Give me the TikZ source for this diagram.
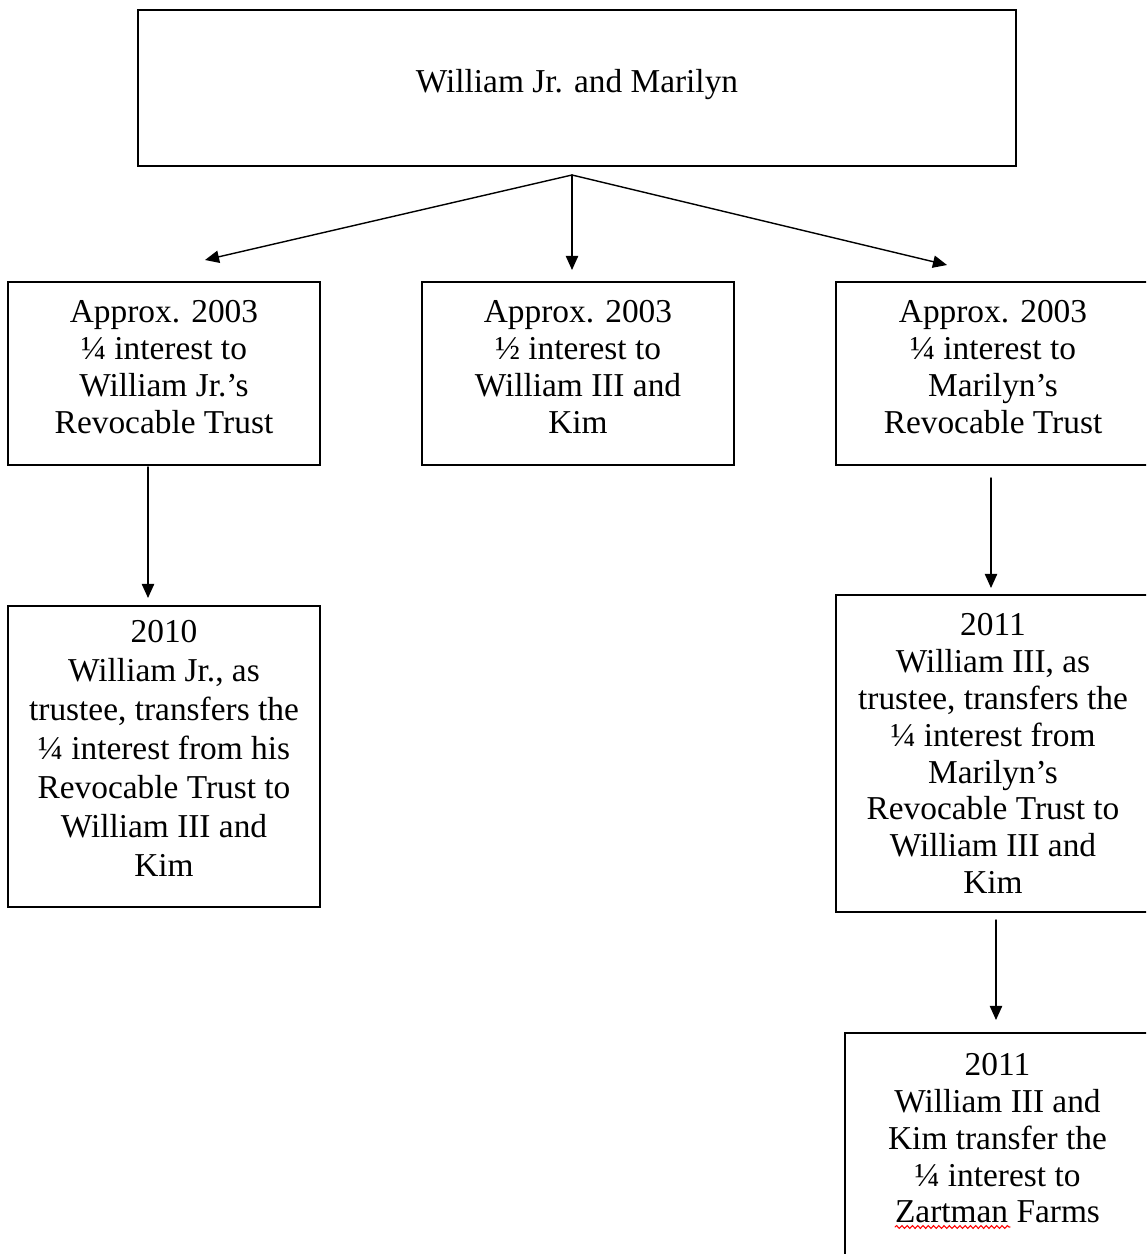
\documentclass[tikz,border=0pt]{standalone}
\usepackage{fontspec}
\setmainfont{Liberation Serif}
\usetikzlibrary{arrows.meta,decorations.pathmorphing}

\newcommand{\padlow}{\\[-0.46cm]\mbox{}}

\begin{document}
\begin{tikzpicture}[
    x=0.02cm, y=-0.02cm, line cap=round,
    box/.style ={draw, line width=1pt, align=center, inner sep=0pt, font=\fontsize{19}{21}\selectfont},
    link/.style={-{Triangle[length=8pt,width=7pt]}, line width=0.8pt},
    spell/.style={red, line width=0.6pt, decorate, decoration={snake, amplitude=0.8pt, segment length=3pt}}
]
\useasboundingbox (0,0) rectangle (1146,1254);
\clip (0,0) rectangle (1146,1254);

% parents
\node[box, minimum width=17.56cm, minimum height=3.12cm] (parents) at (577,88) {William Jr. and Marilyn\padlow};

% 2003 conveyances
\node[box, minimum width=6.24cm, minimum height=3.66cm] (wjtrust) at (164,373.5)
  {Approx. 2003\\ \textonequarter{} interest to\\ William Jr.’s\\ Revocable Trust\padlow};
\node[box, minimum width=6.24cm, minimum height=3.66cm] (halfint) at (578,373.5)
  {Approx. 2003\\ \textonehalf{} interest to\\ William III and\\ Kim\padlow};
\node[box, minimum width=6.28cm, minimum height=3.66cm] (mtrust) at (993,373.5)
  {Approx. 2003\\ \textonequarter{} interest to\\ Marilyn’s\\ Revocable Trust\padlow};

% later transfers
\node[box, minimum width=6.24cm, minimum height=6.02cm, font=\fontsize{19}{22.2}\selectfont] (wjxfer) at (164,756.5)
  {2010\\ William Jr., as\\ trustee, transfers the\\ \textonequarter{} interest from his\\ Revocable Trust to\\ William III and\\ Kim\padlow};
\node[box, minimum width=6.28cm, minimum height=6.34cm] (mxfer) at (993,753.5)
  {2011\\ William III, as\\ trustee, transfers the\\ \textonequarter{} interest from\\ Marilyn’s\\ Revocable Trust to\\ William III and\\ Kim};
\node[box, minimum width=6.10cm, minimum height=4.94cm] (zartman) at (997.5,1156.5)
  {2011\\ William III and\\ Kim transfer the\\ \textonequarter{} interest to\\ Zartman Farms\\ \mbox{}};

% arrow ends
\coordinate (fork) at (572,175);
\coordinate (tipL) at (205,260);
\coordinate (tipC) at (572,270);
\coordinate (tipR) at (947,265);
\coordinate (srcL) at (148,467);
\coordinate (tipLL) at (148,598);
\coordinate (srcR) at (991,478);
\coordinate (tipRR) at (991,588);
\coordinate (srcZ) at (996,920);
\coordinate (tipZ) at (996,1020);

\draw[link] (fork) -- (tipL);
\draw[link] (fork) -- (tipC);
\draw[link] (fork) -- (tipR);
\draw[link] (srcL) -- (tipLL);
\draw[link] (srcR) -- (tipRR);
\draw[link] (srcZ) -- (tipZ);

% spelling mark
\draw[spell] (895,1227) -- (1010,1227);
\end{tikzpicture}
\end{document}
